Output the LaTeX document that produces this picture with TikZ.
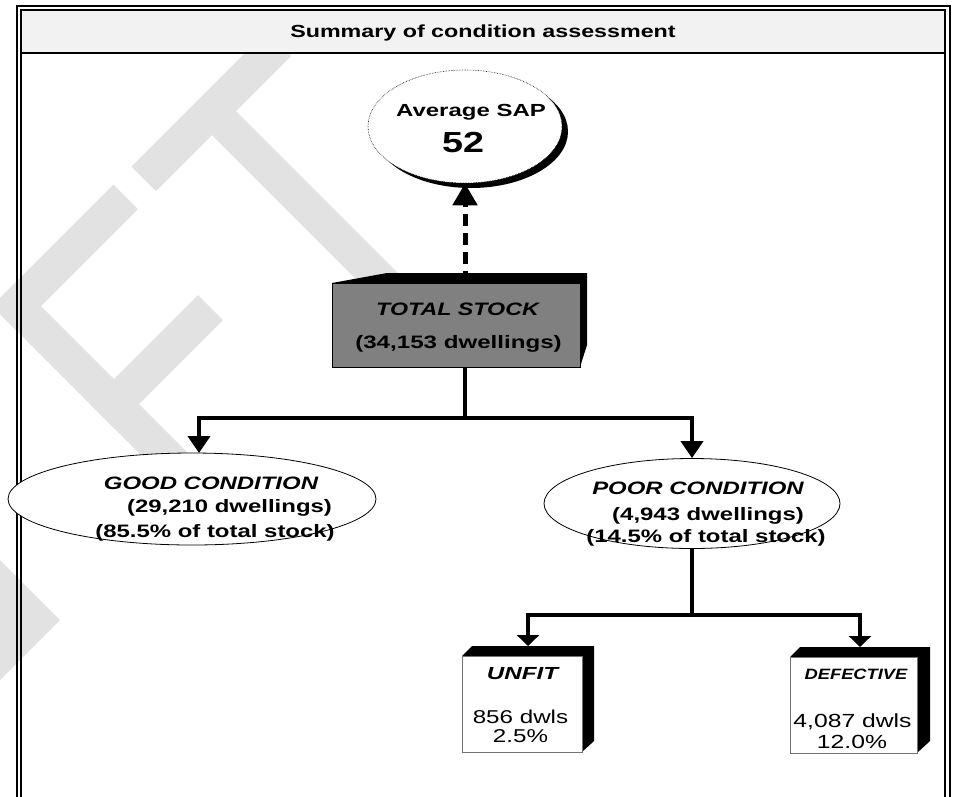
\documentclass[tikz,border=0pt]{standalone}
\usepackage{fontspec}
\usepackage{graphicx}
\setmainfont{Liberation Sans}
\usetikzlibrary{shapes.geometric,arrows.meta}
\newcommand{\tx}[2]{\scalebox{#1}[1]{#2}}
\newcommand{\wmbar}[4]{\fill[wm] (#1,#2) -- (#3,#2) -- (#3,#4) -- (#1,#4) -- cycle;}
\definecolor{wm}{HTML}{E2E2E2}
\definecolor{band}{HTML}{F2F2F2}
\definecolor{stockgray}{HTML}{808080}
\begin{document}
\begin{tikzpicture}[x=1pt,y=-1pt,
  lbl/.style={inner sep=0pt, anchor=base},
  conn/.style={line width=4pt},
  uptip/.style={-{Triangle[width=22pt,length=17pt]}},
  lowtip/.style={-{Triangle[width=22pt,length=11pt]}},
  oval/.style={ellipse, draw=black, line width=0.8pt, fill=white, inner sep=0pt},
  face/.style={draw=black!55, line width=0.8pt, fill=white, inner sep=0pt},
]
\useasboundingbox (0,0) rectangle (957,796);
\begin{scope}
\clip (0,0) rectangle (957,796);
% watermark (DRAFT, rotated)
\begin{scope}[x={(0.5pt,0.5pt)}, y={(0.5pt,-0.5pt)}]
  \wmbar{-35}{298}{235}{347}
  \wmbar{77}{347}{125}{720}
  \wmbar{-314}{298}{-71}{347}
  \wmbar{-314}{298}{-265}{700}
  \wmbar{-314}{493}{-97}{543}
\end{scope}
\fill[wm] (0,560) -- (60,620) -- (0,680) -- cycle;
% frame
\draw[line width=2pt] (17,830) -- (17,6) -- (950,6) -- (950,830);
\draw[line width=1.5pt] (21,830) -- (21,10) -- (945,10) -- (945,830);
\fill[band] (21.75,10.75) rectangle (944.25,52);
\draw[line width=2pt] (21,53) -- (945,53);
\end{scope}
\node[lbl] (title) at (483,37) {\fontsize{17.5}{20}\selectfont\bfseries\tx{1.33}{Summary of condition assessment}};

% Average SAP
\fill (471,131.5) ellipse (97 and 56.5);
\node[ellipse, draw=black, densely dotted, line width=0.6pt, fill=white, inner sep=0pt,
      minimum width=194pt, minimum height=113pt] (sap) at (465,126.5) {};
\node[lbl] (saptxt) at (471,116) {\fontsize{17.5}{20}\selectfont\bfseries\tx{1.37}{Average SAP}};
\node[lbl] (sapval) at (463,152) {\fontsize{29}{32}\selectfont\bfseries\tx{1.3}{52}};

% Total stock box
\fill (332,283) -- (387,273) -- (587,273) -- (587,345) -- (580,367) -- (580,283) -- cycle;
\node[draw=black, line width=0.8pt, fill=stockgray, inner sep=0pt,
      minimum width=248pt, minimum height=84pt] (stock) at (456,325) {};
\node[lbl] (stk1) at (457.5,315) {\fontsize{18}{20}\selectfont\bfseries\itshape\tx{1.29}{TOTAL STOCK}};
\node[lbl] (stk2) at (458.5,348) {\fontsize{18}{20}\selectfont\bfseries\tx{1.34}{(34,153 dwellings)}};

% dashed arrow
\draw[line width=5pt, dash pattern=on 12pt off 7pt, -{Triangle[width=24pt,length=22pt]}]
  (stock.north -| sap.south) -- (sap.south);

% condition ellipses
\node[oval, minimum width=368pt, minimum height=92pt] (good) at (192,499) {};
\node[oval, minimum width=296pt, minimum height=90pt] (poor) at (692,503.5) {};

\coordinate (j1) at (465,418);
\coordinate (ga) at (199,453);
\draw[conn] (stock.south -| j1) -- (j1);
\draw[conn, uptip] (j1) -| (ga);
\draw[conn, uptip] (j1) -| (poor.north);

\node[lbl] (g1) at (211,489) {\fontsize{18}{20}\selectfont\bfseries\itshape\tx{1.33}{GOOD CONDITION}};
\node[lbl] (g2) at (229.5,512) {\fontsize{18}{20}\selectfont\bfseries\tx{1.33}{(29,210 dwellings)}};
\node[lbl] (g3) at (215,537) {\fontsize{18}{20}\selectfont\bfseries\tx{1.33}{(85.5\% of total stock)}};

\node[lbl] (p1) at (698,494) {\fontsize{18}{20}\selectfont\bfseries\itshape\tx{1.33}{POOR CONDITION}};
\node[lbl] (p2) at (708,520) {\fontsize{18}{20}\selectfont\bfseries\tx{1.33}{(4,943 dwellings)}};
\node[lbl] (p3) at (706,542) {\fontsize{18}{20}\selectfont\bfseries\tx{1.33}{(14.5\% of total stock)}};

% sub boxes
\fill (462,656) -- (472,646) -- (594,646) -- (594,741) -- (582,752) -- (582,656) -- cycle;
\node[face, minimum width=120pt, minimum height=96pt] (unfit) at (522,704) {};
\fill (790,657) -- (800,647) -- (930,647) -- (930,741) -- (917,753) -- (917,657) -- cycle;
\node[face, minimum width=127pt, minimum height=96pt] (defect) at (853.5,705) {};

\coordinate (j2) at (692,615);
\coordinate (ua) at (528,646);
\coordinate (da) at (860,647);
\draw[conn] (poor.south) -- (j2);
\draw[conn, lowtip] (j2) -| (ua);
\draw[conn, lowtip] (j2) -| (da);

\node[lbl] (u1) at (522.5,679) {\fontsize{17.5}{20}\selectfont\bfseries\itshape\tx{1.38}{UNFIT}};
\node[lbl] (u2) at (520.5,723) {\fontsize{18.6}{20}\selectfont\tx{1.3}{856 dwls}};
\node[lbl] (u3) at (520.5,742) {\fontsize{18.6}{20}\selectfont\tx{1.3}{2.5\%}};

\node[lbl] (d1) at (856,679) {\fontsize{15}{18}\selectfont\bfseries\itshape\tx{1.22}{DEFECTIVE}};
\node[lbl] (d2) at (852.5,727) {\fontsize{19}{20}\selectfont\tx{1.3}{4,087 dwls}};
\node[lbl] (d3) at (852,748) {\fontsize{19}{20}\selectfont\tx{1.3}{12.0\%}};
\end{tikzpicture}
\end{document}
